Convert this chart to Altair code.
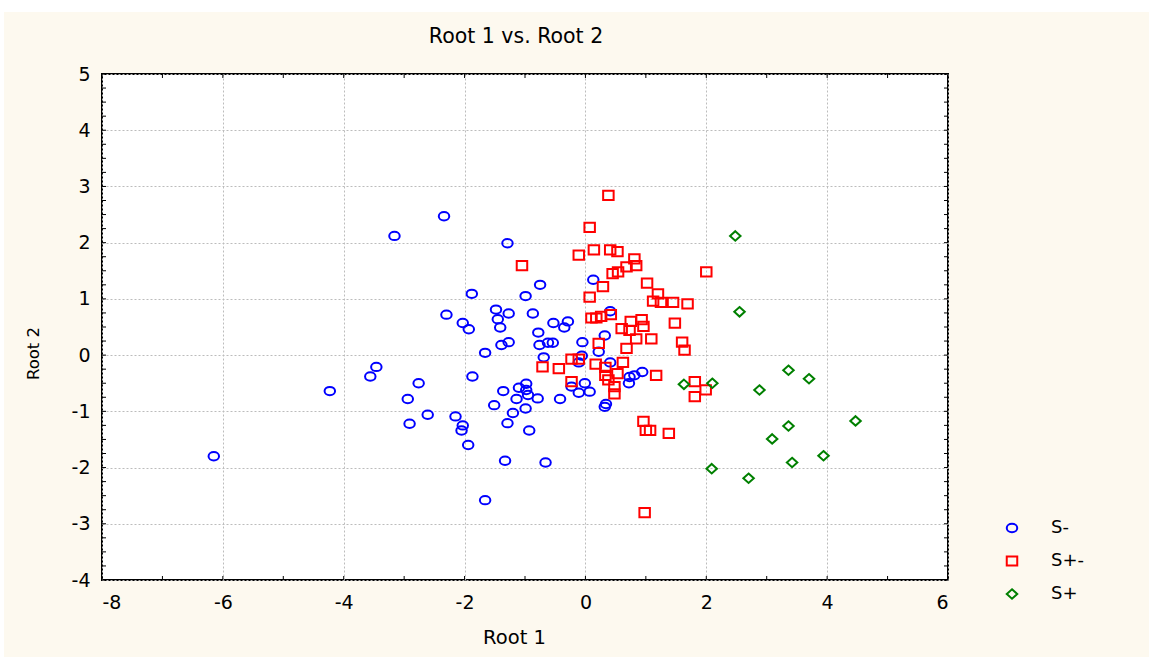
import altair as alt
import pandas as pd

# Discriminant scores (Root 1, Root 2) for each group
s_minus_root1 = [
    -6.15, -4.23, -3.16, -2.34, -3.46, -3.56, -2.76, -2.94, -2.91, -2.61,
    -2.30, -2.03, -1.93, -1.88, -1.87, -2.15, -2.03, -2.05, -1.94, -1.66,
    -1.66, -1.48, -1.45, -1.41, -1.27, -1.39, -1.27, -1.29, -1.36, -1.51,
    -1.33, -1.29, -1.20, -1.14, -1.10, -0.98, -0.98, -0.95, -0.99, -0.93,
    -0.79, -0.99, -0.87, -0.75, -0.78, -0.76, -0.69, -0.62, -0.54, -0.53,
    -0.35, -0.29, -0.05, -0.06, -0.11, 0.13, 0.41, 0.32, 0.22, 0.41,
    0.94, 0.81, 0.73, 0.72, -0.01, 0.07, -0.11, -0.23, -0.42, 0.34,
    0.32, -0.66,
]
s_minus_root2 = [
    -1.80, -0.64, 2.12, 2.47, -0.21, -0.38, -0.50, -0.78, -1.22, -1.06,
    0.72, 0.57, 0.46, 1.09, -0.38, -1.09, -1.25, -1.34, -1.60, -2.58,
    0.04, 0.81, 0.64, 0.49, 0.74, 0.18, 0.23, 1.99, -0.64, -0.89,
    -1.88, -1.21, -1.03, -0.78, -0.58, -0.51, -0.62, -0.71, -0.95, -1.34,
    -0.77, 1.05, 0.74, 1.25, 0.40, 0.18, -0.04, 0.22, 0.22, 0.57,
    0.49, 0.60, 0.23, -0.01, -0.13, 1.34, 0.78, 0.35, 0.06, -0.13,
    -0.30, -0.36, -0.39, -0.50, -0.50, -0.65, -0.67, -0.56, -0.78, -0.87,
    -0.92, -1.91,
]

s_pm_root1 = [
    0.38, 0.07, -0.11, 0.14, 0.41, 0.53, -1.05, 0.81, 0.68, 0.84,
    0.45, 0.54, 2.00, 1.02, 0.29, 1.20, 1.12, 1.25, 1.45, 1.69,
    0.07, 0.10, 0.18, 0.26, 0.42, 0.75, 0.93, 0.96, 0.60, 0.73,
    1.48, 0.84, 1.09, 0.68, 1.60, 1.64, 0.22, -0.23, -0.11, -0.44,
    -0.71, 0.17, 0.33, 0.33, 0.53, 0.62, 0.38, 0.48, 0.48, -0.23,
    1.17, 1.81, 1.99, 1.81, 0.96, 1.00, 1.07, 1.38, 0.98,
]
s_pm_root2 = [
    2.84, 2.27, 1.78, 1.87, 1.87, 1.84, 1.59, 1.71, 1.57, 1.59,
    1.45, 1.48, 1.48, 1.28, 1.22, 1.09, 0.96, 0.94, 0.94, 0.91,
    1.03, 0.66, 0.66, 0.69, 0.72, 0.60, 0.63, 0.51, 0.47, 0.44,
    0.57, 0.29, 0.29, 0.12, 0.23, 0.09, 0.21, -0.07, -0.07, -0.24,
    -0.21, -0.16, -0.22, -0.36, -0.33, -0.13, -0.44, -0.56, -0.69, -0.47,
    -0.36, -0.47, -0.62, -0.74, -1.18, -1.34, -1.34, -1.39, -2.80,
]

s_plus_root1 = [
    2.48, 2.55, 3.36, 3.70, 1.63, 2.10, 2.88, 4.47, 3.36, 3.09,
    3.94, 3.42, 2.09, 2.70,
]
s_plus_root2 = [
    2.12, 0.77, -0.27, -0.42, -0.52, -0.50, -0.62, -1.17, -1.26, -1.49,
    -1.79, -1.91, -2.02, -2.19,
]

group_names = ["S-", "S+-", "S+"]
group_colors = ["#0000ff", "#ff0000", "#008000"]
group_shapes = [
    "M-1,0 A1,0.8 0 1,1 1,0 A1,0.8 0 1,1 -1,0 Z",
    "M-1,-0.88 H1 V0.88 H-1 Z",
    "M0,-0.9 L1,0 L0,0.9 L-1,0 Z",
]
group_sizes = [110, 110, 85]

x_major = [-8, -6, -4, -2, 0, 2, 4, 6]
y_major = [-4, -3, -2, -1, 0, 1, 2, 3, 4, 5]
x_minor = list(range(-8, 7))
y_minor = [v / 4 for v in range(-16, 21)]

scores = pd.concat(
    [
        pd.DataFrame({"root1": s_minus_root1, "root2": s_minus_root2, "group": "S-"}),
        pd.DataFrame({"root1": s_pm_root1, "root2": s_pm_root2, "group": "S+-"}),
        pd.DataFrame({"root1": s_plus_root1, "root2": s_plus_root2, "group": "S+"}),
    ],
    ignore_index=True,
)

W, H = 846, 506
PAD_L, PAD_T = 102, 74
FONT = "DejaVu Sans"
CREAM = "#fdf9ef"

xs = alt.Scale(domain=[-8, 6], nice=False, zero=False)
ys = alt.Scale(domain=[-4, 5], nice=False, zero=False)
minus_fix = "datum.value < 0 ? '-' + abs(datum.value) : '' + datum.value"

x_axis = alt.Axis(
    values=x_major, labelExpr=minus_fix, grid=True, ticks=False, domain=False,
    gridColor="#bcbcbc", gridDash=[2, 2], gridWidth=1,
    labelFont=FONT, labelFontSize=19, labelColor="black", labelPadding=13,
    title="Root 1", titleFont=FONT, titleFontSize=19.5, titleFontWeight="normal",
    titleColor="black", titleX=412, titleY=57, titleBaseline="middle", titleAlign="center",
)
y_axis = alt.Axis(
    values=y_major, labelExpr=minus_fix, grid=True, ticks=False, domain=False,
    gridColor="#bcbcbc", gridDash=[2, 2], gridWidth=1,
    labelFont=FONT, labelFontSize=19, labelColor="black", labelPadding=12,
    title="Root 2", titleFont=FONT, titleFontSize=16.5, titleFontWeight="normal",
    titleColor="black", titleX=-69, titleY=279, titleBaseline="middle", titleAlign="center",
    titleAngle=270,
)

legend_kw = dict(
    orient="none", legendX=901, legendY=445, title=None, padding=0,
    labelFont=FONT, labelFontSize=18, labelColor="black", labelOffset=30,
    symbolStrokeWidth=2, symbolSize=110, rowPadding=15,
)

points = alt.Chart(scores).mark_point(filled=False, strokeWidth=2, opacity=1).encode(
    x=alt.X("root1:Q", scale=xs, axis=x_axis),
    y=alt.Y("root2:Q", scale=ys, axis=y_axis),
    color=alt.Color("group:N", scale=alt.Scale(domain=group_names, range=group_colors),
                    legend=alt.Legend(**legend_kw)),
    shape=alt.Shape("group:N", scale=alt.Scale(domain=group_names, range=group_shapes),
                    legend=alt.Legend(**legend_kw)),
    size=alt.Size("group:O", scale=alt.Scale(domain=group_names, range=group_sizes), legend=None),
)

# inward tick marks on all four sides of the frame
yt = pd.DataFrame({"root2": y_minor})
xt = pd.DataFrame({"root1": x_minor})
tick_style = dict(color="black", strokeWidth=1)
left_ticks = alt.Chart(yt).mark_rule(**tick_style).encode(
    y=alt.Y("root2:Q", scale=ys), x=alt.value(0), x2=alt.value(4))
right_ticks = alt.Chart(yt).mark_rule(**tick_style).encode(
    y=alt.Y("root2:Q", scale=ys), x=alt.value(W - 4), x2=alt.value(W))
bottom_ticks = alt.Chart(xt).mark_rule(**tick_style).encode(
    x=alt.X("root1:Q", scale=xs), y=alt.value(H - 4), y2=alt.value(H))
top_ticks = alt.Chart(xt).mark_rule(**tick_style).encode(
    x=alt.X("root1:Q", scale=xs), y=alt.value(0), y2=alt.value(4))

one = pd.DataFrame({"k": [0]})
# white margin along the top and left edges of the page
top_strip = alt.Chart(one).mark_rect(color="white").encode(
    x=alt.value(-PAD_L), x2=alt.value(1149 - PAD_L), y=alt.value(-PAD_T), y2=alt.value(12 - PAD_T))
left_strip = alt.Chart(one).mark_rect(color="white").encode(
    x=alt.value(-PAD_L), x2=alt.value(4 - PAD_L), y=alt.value(-PAD_T), y2=alt.value(657 - PAD_T))

title = alt.Chart(one).mark_text(
    text="Root 1 vs. Root 2", font=FONT, fontSize=20.5, color="black",
    align="center", baseline="middle",
).encode(x=alt.value(516 - PAD_L), y=alt.value(37 - PAD_T))

chart = alt.layer(
    points, top_strip, left_strip, left_ticks, right_ticks, bottom_ticks, top_ticks, title
).properties(
    width=W, height=H,
    padding={"left": PAD_L, "top": PAD_T, "right": 1149 - PAD_L - W, "bottom": 657 - PAD_T - H},
    autosize=alt.AutoSizeParams(type="none"),
    background=CREAM,
).configure_view(
    fill="white", stroke="black", strokeWidth=2,
)

chart.save("out.html", embed_options={"renderer": "svg", "actions": False})
